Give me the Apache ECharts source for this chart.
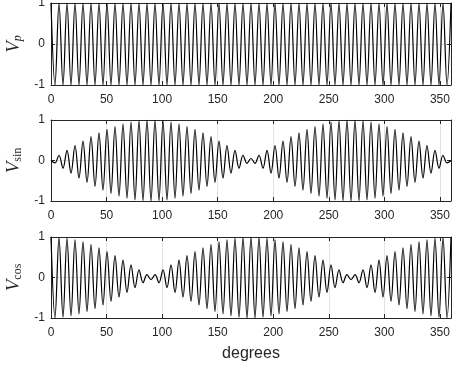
<!DOCTYPE html>
<html><head><meta charset="utf-8">
<script src="https://cdn.jsdelivr.net/npm/echarts@6/dist/echarts.min.js"></script>
<style>html,body{margin:0;padding:0;background:#fff}#c{width:452px;height:370px}</style>
</head><body><div id="c"></div>
<script>
// peak positions (degrees)
const peakDeg = [0,3.6,7.2,10.8,14.4,18,21.6,25.2,28.8,32.4,36,39.6,43.2,46.8,50.4,54,57.6,61.2,64.8,68.4,72,75.6,79.2,82.8,86.4,90,93.6,97.2,100.8,104.4,108,111.6,115.2,118.8,122.4,126,129.6,133.2,136.8,140.4,144,147.6,151.2,154.8,158.4,162,165.6,169.2,172.8,176.4,180,183.6,187.2,190.8,194.4,198,201.6,205.2,208.8,212.4,216,219.6,223.2,226.8,230.4,234,237.6,241.2,244.8,248.4,252,255.6,259.2,262.8,266.4,270,273.6,277.2,280.8,284.4,288,291.6,295.2,298.8,302.4,306,309.6,313.2,316.8,320.4,324,327.6,331.2,334.8,338.4,342,345.6,349.2,352.8,356.4,360];
// V_p peak values
const vp = [1,-1,1,-1,1,-1,1,-1,1,-1,1,-1,1,-1,1,-1,1,-1,1,-1,1,-1,1,-1,1,-1,1,-1,1,-1,1,-1,1,-1,1,-1,1,-1,1,-1,1,-1,1,-1,1,-1,1,-1,1,-1,1,-1,1,-1,1,-1,1,-1,1,-1,1,-1,1,-1,1,-1,1,-1,1,-1,1,-1,1,-1,1,-1,1,-1,1,-1,1,-1,1,-1,1,-1,1,-1,1,-1,1,-1,1,-1,1,-1,1,-1,1,-1,1];
// V_sin peak values
const vsin = [0,-0.06,0.13,-0.19,0.25,-0.31,0.37,-0.43,0.48,-0.54,0.59,-0.64,0.68,-0.73,0.77,-0.81,0.84,-0.88,0.9,-0.93,0.95,-0.97,0.98,-0.99,1,-1,1,-0.99,0.98,-0.97,0.95,-0.93,0.9,-0.88,0.84,-0.81,0.77,-0.73,0.68,-0.64,0.59,-0.54,0.48,-0.43,0.37,-0.31,0.25,-0.19,0.13,-0.07,0.05,-0.07,0.13,-0.19,0.25,-0.31,0.37,-0.43,0.48,-0.54,0.59,-0.64,0.68,-0.73,0.77,-0.81,0.84,-0.88,0.9,-0.93,0.95,-0.97,0.98,-0.99,1,-1,1,-0.99,0.98,-0.97,0.95,-0.93,0.9,-0.88,0.84,-0.81,0.77,-0.73,0.68,-0.64,0.59,-0.54,0.48,-0.43,0.37,-0.31,0.25,-0.19,0.13,-0.06,0];
// V_cos peak values
const vcos = [1,-1,0.99,-0.98,0.97,-0.95,0.93,-0.9,0.88,-0.84,0.81,-0.77,0.73,-0.68,0.64,-0.59,0.54,-0.48,0.43,-0.37,0.31,-0.25,0.19,-0.13,0.07,-0.05,0.07,-0.13,0.19,-0.25,0.31,-0.37,0.43,-0.48,0.54,-0.59,0.64,-0.68,0.73,-0.77,0.81,-0.84,0.88,-0.9,0.93,-0.95,0.97,-0.98,0.99,-1,1,-1,0.99,-0.98,0.97,-0.95,0.93,-0.9,0.88,-0.84,0.81,-0.77,0.73,-0.68,0.64,-0.59,0.54,-0.48,0.43,-0.37,0.31,-0.25,0.19,-0.13,0.07,-0.05,0.07,-0.13,0.19,-0.25,0.31,-0.37,0.43,-0.48,0.54,-0.59,0.64,-0.68,0.73,-0.77,0.81,-0.84,0.88,-0.9,0.93,-0.95,0.97,-0.98,0.99,-1,1];
const xTicks = {min: 0, max: 360, interval: 50};
const yTicks = {min: -1, max: 1, interval: 1};
const xTitle = 'degrees';
const yTitles = ['{v|V}{pi|p}', '{v|V}{s|sin}', '{v|V}{s|cos}'];

const ax = '#262626', gridC = '#e3e3e3';
const font = 'Liberation Sans, Arial, Helvetica, sans-serif';
const grids = [
  {left: 51, top: 3, width: 400, height: 82, outerBoundsMode: 'none', containLabel: false},
  {left: 51, top: 120, width: 400, height: 81, outerBoundsMode: 'none', containLabel: false},
  {left: 51, top: 237, width: 400, height: 81, outerBoundsMode: 'none', containLabel: false}
];
const serif = 'Liberation Serif, DejaVu Serif, serif';
const rich = {
  v: {fontFamily: serif, fontStyle: 'italic', fontSize: 19, color: ax, verticalAlign: 'bottom', lineHeight: 22},
  pi: {fontFamily: serif, fontStyle: 'italic', fontSize: 12, color: ax, verticalAlign: 'bottom', lineHeight: 14},
  s: {fontFamily: serif, fontSize: 12, color: ax, verticalAlign: 'bottom', lineHeight: 14}
};
const xAxes = [], yAxes = [], series = [];
const allData = [vp, vsin, vcos];
for (let i = 0; i < 3; i++) {
  xAxes.push({
    type: 'value', gridIndex: i, min: xTicks.min, max: xTicks.max, interval: xTicks.interval,
    axisLine: {show: true, onZero: false, lineStyle: {color: ax, width: 1}},
    axisTick: {show: true, inside: true, length: 4, lineStyle: {color: ax}},
    axisLabel: {show: true, color: ax, fontSize: 12, fontFamily: font, margin: 9, showMaxLabel: false},
    splitLine: {show: true, lineStyle: {color: gridC, width: 1}},
    name: i === 2 ? xTitle : '', nameLocation: 'middle', nameGap: 28,
    nameTextStyle: {fontSize: 16, color: ax, fontFamily: font}
  });
  xAxes.push({
    type: 'value', gridIndex: i, position: 'top', min: xTicks.min, max: xTicks.max, interval: xTicks.interval,
    axisLine: {show: true, onZero: false, lineStyle: {color: ax, width: 1}},
    axisTick: {show: true, inside: true, length: 4, lineStyle: {color: ax}},
    axisLabel: {show: false}, splitLine: {show: false}
  });
  yAxes.push({
    type: 'value', gridIndex: i, min: yTicks.min, max: yTicks.max, interval: yTicks.interval,
    axisLine: {show: true, onZero: false, lineStyle: {color: ax, width: 1}},
    axisTick: {show: true, inside: true, length: 4, lineStyle: {color: ax}},
    axisLabel: {show: true, color: ax, fontSize: 12, fontFamily: font, margin: 6},
    splitLine: {show: true, lineStyle: {color: gridC, width: 1}},
    name: yTitles[i], nameLocation: 'middle', nameRotate: 90, nameGap: 21,
    nameTextStyle: {rich: rich}
  });
  yAxes.push({
    type: 'value', gridIndex: i, position: 'right', min: yTicks.min, max: yTicks.max, interval: yTicks.interval,
    axisLine: {show: true, onZero: false, lineStyle: {color: ax, width: 1}},
    axisTick: {show: true, inside: true, length: 4, lineStyle: {color: ax}},
    axisLabel: {show: false}, splitLine: {show: false}
  });
  series.push({
    type: 'line', xAxisIndex: 2 * i, yAxisIndex: 2 * i,
    data: peakDeg.map((d, k) => [d, allData[i][k]]),
    showSymbol: false, smooth: 0.36, clip: true,
    lineStyle: {color: '#000', width: 1.2}, silent: true
  });
}
const chart = echarts.init(document.getElementById('c'), null, {renderer: 'canvas'});
chart.setOption({animation: false, grid: grids, xAxis: xAxes, yAxis: yAxes, series: series});
</script></body></html>
